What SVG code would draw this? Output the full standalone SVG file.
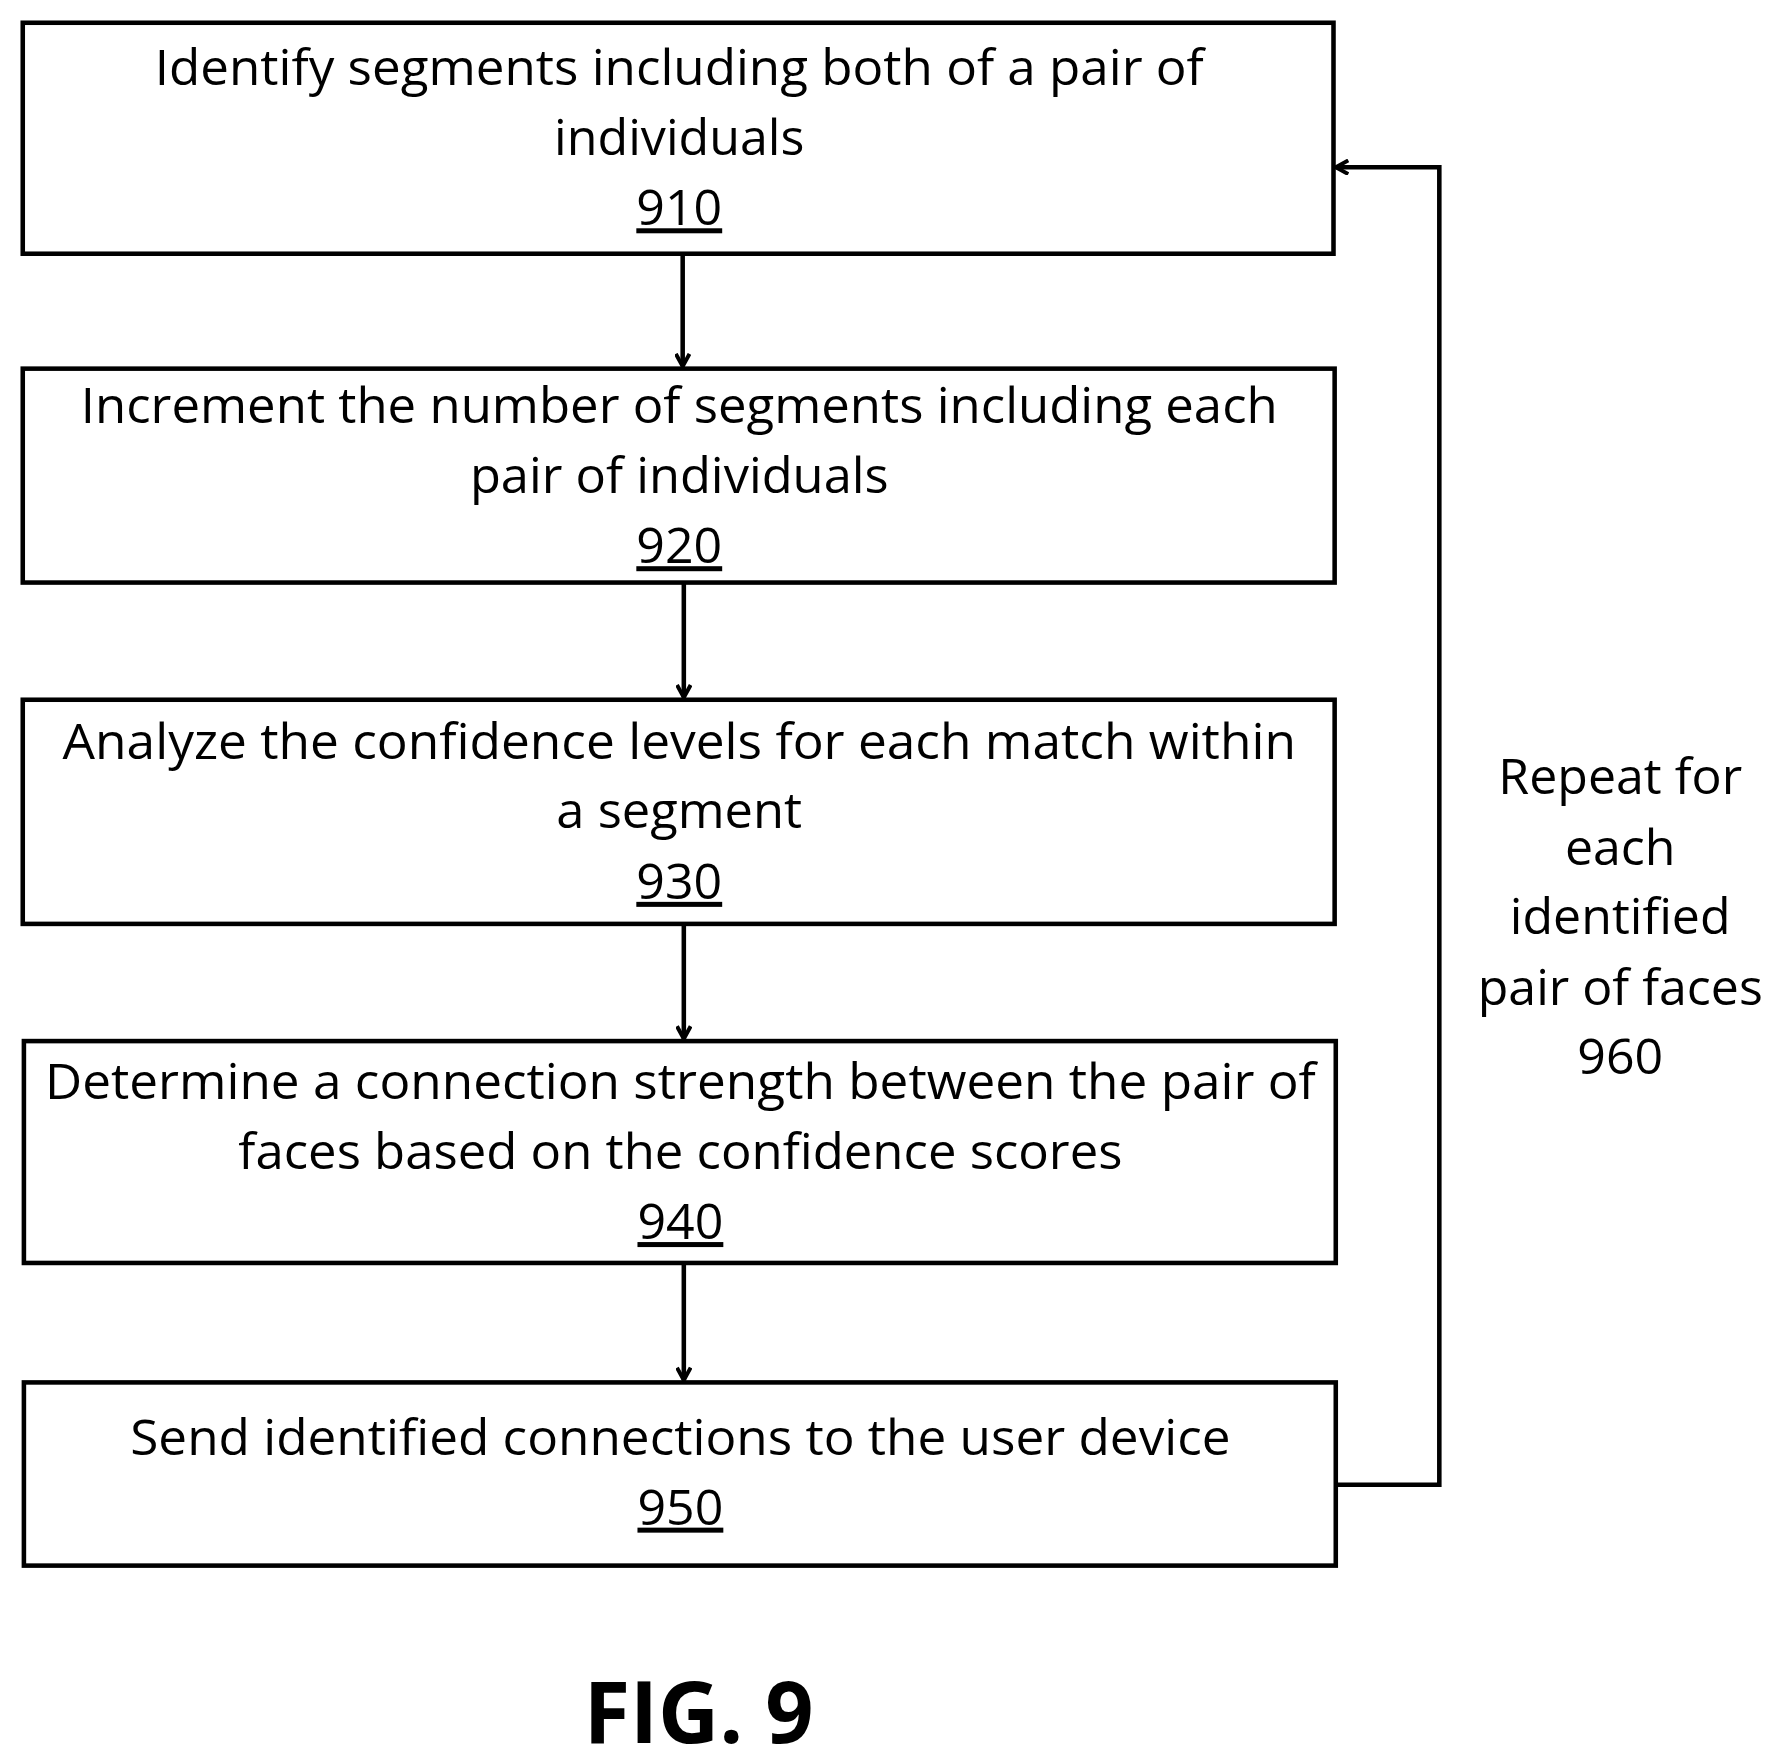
<svg xmlns="http://www.w3.org/2000/svg" width="1775" height="1756" viewBox="0 0 1775 1756">
<style>
.b{fill:#fff;stroke:#000;stroke-width:4}
.c{fill:none;stroke:#000;stroke-width:4}
text{font-family:"Open Sans","Liberation Sans",sans-serif;font-size:44px;text-anchor:middle;fill:#000}
.u{text-decoration:underline}
</style>
<defs><marker id="a" markerWidth="14" markerHeight="14" refX="12" refY="7" orient="auto" markerUnits="userSpaceOnUse"><path d="M1,1 L12,7 L1,13" fill="none" stroke="#000" stroke-width="3.5"/></marker></defs>
<rect width="1775" height="1756" fill="#fff"/>
<g transform="scale(1.1378)">
<g id="n910"><rect class="b" x="20" y="20" width="1152" height="203"/>
<text x="597" y="75" textLength="922" lengthAdjust="spacingAndGlyphs">Identify segments including both of a pair of</text>
<text x="597" y="136" textLength="220" lengthAdjust="spacingAndGlyphs">individuals</text>
<text x="597" y="198" class="u">910</text></g>
<g id="n920"><rect class="b" x="20" y="324" width="1153" height="188"/>
<text x="597" y="372" textLength="1052" lengthAdjust="spacingAndGlyphs">Increment the number of segments including each</text>
<text x="597" y="433" textLength="368" lengthAdjust="spacingAndGlyphs">pair of individuals</text>
<text x="597" y="495" class="u">920</text></g>
<g id="n930"><rect class="b" x="20" y="615" width="1153" height="197"/>
<text x="597" y="667" textLength="1084" lengthAdjust="spacingAndGlyphs">Analyze the confidence levels for each match within</text>
<text x="597" y="728" textLength="216" lengthAdjust="spacingAndGlyphs">a segment</text>
<text x="597" y="790" class="u">930</text></g>
<g id="n940"><rect class="b" x="21" y="915" width="1153" height="195"/>
<text x="598" y="966" textLength="1117" lengthAdjust="spacingAndGlyphs">Determine a connection strength between the pair of</text>
<text x="598" y="1027" textLength="777" lengthAdjust="spacingAndGlyphs">faces based on the confidence scores</text>
<text x="598" y="1089" class="u">940</text></g>
<g id="n950"><rect class="b" x="21" y="1215" width="1153" height="161"/>
<text x="598" y="1279" textLength="967" lengthAdjust="spacingAndGlyphs">Send identified connections to the user device</text>
<text x="598" y="1340" class="u">950</text></g>
<g id="n960">
<text x="1424" y="698">Repeat for</text>
<text x="1424" y="760">each</text>
<text x="1424" y="821">identified</text>
<text x="1424" y="883">pair of faces</text>
<text x="1424" y="944">960</text></g>
<g id="connectors">
<path class="c" d="M600,223 V322" marker-end="url(#a)"/>
<path class="c" d="M601,512 V613" marker-end="url(#a)"/>
<path class="c" d="M601,812 V913" marker-end="url(#a)"/>
<path class="c" d="M601,1110 V1213" marker-end="url(#a)"/>
<path class="c" d="M1174,1305 H1265 V147 H1174" marker-end="url(#a)"/>
</g>
<text x="614" y="1532" style="font-weight:bold;font-size:76px" textLength="202" lengthAdjust="spacingAndGlyphs">FIG. 9</text>
</g>
</svg>
